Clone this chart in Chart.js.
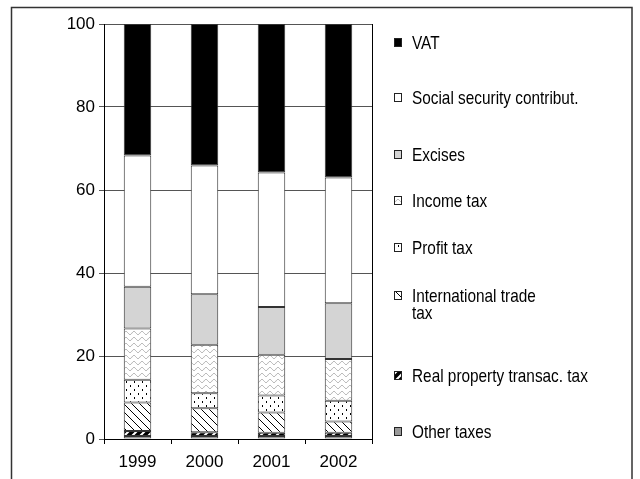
<!DOCTYPE html>
<html>
<head>
<meta charset="utf-8">
<script src="https://cdn.jsdelivr.net/npm/chart.js@4"></script>
<style>
  html, body { margin: 0; padding: 0; background: #fff; }
  #wrap { width: 640px; height: 479px; position: relative; }
</style>
</head>
<body>
<div id="wrap"><canvas id="taxChart"></canvas></div>
<script>
// ===== DATA =====
const years = ['1999', '2000', '2001', '2002'];
const yTicks = [0, 20, 40, 60, 80, 100];

// shares in % (stacked bottom to top)
const otherTaxes     = [0.7, 0.7, 0.7, 0.7];
const realProperty   = [1.2, 0.9, 0.8, 0.8];
const intlTrade      = [6.9, 5.8, 4.9, 2.7];
const profitTax      = [5.5, 3.6, 4.1, 5.0];
const incomeTax      = [12.3, 11.7, 9.8, 10.1];
const excises        = [10.1, 12.2, 11.5, 13.4];
const socialSecurity = [31.6, 31.0, 32.4, 30.3];
const vat            = [31.7, 34.1, 35.8, 37.0];

// legend text, top to bottom
const legendLabels = [
    'VAT',
    'Social security contribut.',
    'Excises',
    'Income tax',
    'Profit tax',
    ['International trade', 'tax'],
    'Real property transac. tax',
    'Other taxes'
];

const FONT = '"Liberation Sans", Arial, sans-serif';

// ===== PATTERNS =====
function makePattern(w, h, draw) {
    const c = document.createElement('canvas');
    c.width = w; c.height = h;
    const g = c.getContext('2d');
    draw(g, w, h);
    return g.createPattern(c, 'repeat');
}

const wavyFill = makePattern(8, 6, (g, w, h) => {
    g.fillStyle = '#fff'; g.fillRect(0, 0, w, h);
    g.strokeStyle = '#a8a8a8'; g.lineWidth = 1;
    g.beginPath();
    for (let x = 0; x <= w; x += 0.5) {
        const y = 3 + 1.6 * Math.sin(x / w * Math.PI * 2);
        if (x === 0) g.moveTo(x, y); else g.lineTo(x, y);
    }
    g.stroke();
});

const dotFill = makePattern(8, 8, (g, w, h) => {
    g.fillStyle = '#fff'; g.fillRect(0, 0, w, h);
    g.fillStyle = '#000';
    g.fillRect(2, 1, 1, 2);
    g.fillRect(6, 5, 1, 2);
});

const hatchFill = makePattern(8, 8, (g, w, h) => {
    g.fillStyle = '#fff'; g.fillRect(0, 0, w, h);
    g.strokeStyle = '#000'; g.lineWidth = 1;
    g.beginPath();
    g.moveTo(-1, -1); g.lineTo(9, 9);
    g.moveTo(-9, -1); g.lineTo(1, 9);
    g.moveTo(7, -1); g.lineTo(17, 9);
    g.stroke();
});

const stripeFill = makePattern(8, 8, (g, w, h) => {
    g.fillStyle = '#000'; g.fillRect(0, 0, w, h);
    g.strokeStyle = '#fff'; g.lineWidth = 2;
    g.beginPath();
    g.moveTo(-1, 9); g.lineTo(9, -1);
    g.moveTo(-9, 9); g.lineTo(1, -1);
    g.moveTo(7, 9); g.lineTo(17, -1);
    g.stroke();
});

// bottom to top
const series = [
    { label: 'Other taxes', data: otherTaxes, fill: '#9a9a9a' },
    { label: 'Real property transac. tax', data: realProperty, fill: stripeFill },
    { label: 'International trade tax', data: intlTrade, fill: hatchFill },
    { label: 'Profit tax', data: profitTax, fill: dotFill },
    { label: 'Income tax', data: incomeTax, fill: wavyFill },
    { label: 'Excises', data: excises, fill: '#d4d4d4' },
    { label: 'Social security contribut.', data: socialSecurity, fill: '#ffffff' },
    { label: 'VAT', data: vat, fill: '#000000' }
];

// ===== PLUGINS =====
const framePlugin = {
    id: 'frame',
    beforeDraw(chart) {
        const ctx = chart.ctx;
        ctx.save();
        ctx.fillStyle = '#fff';
        ctx.fillRect(0, 0, chart.width, chart.height);
        ctx.strokeStyle = '#333';
        ctx.lineWidth = 1.5;
        ctx.strokeRect(11.5, 7.5, 620.5, 500);
        ctx.restore();
    },
    afterDatasetsDraw(chart) {
        const { ctx, chartArea } = chart;
        ctx.save();
        ctx.strokeStyle = '#000';
        ctx.lineWidth = 1;
        ctx.beginPath();
        ctx.moveTo(Math.round(chartArea.right) + 0.5, chartArea.top);
        ctx.lineTo(Math.round(chartArea.right) + 0.5, chartArea.bottom);
        ctx.stroke();
        ctx.restore();
    }
};

// legend drawn at the right, text slightly condensed like the original
const sideLegend = {
    id: 'sideLegend',
    afterDraw(chart) {
        const ctx = chart.ctx;
        const rows = [43, 98, 155, 201, 248, 296, 376, 432];
        const legendFills = series.slice().reverse().map(s => s.fill);
        ctx.save();
        ctx.textBaseline = 'middle';
        legendLabels.forEach((lbl, i) => {
            const y = rows[i];
            ctx.fillStyle = legendFills[i];
            ctx.fillRect(394.5, y - 4.5, 7, 8);
            ctx.strokeStyle = '#222';
            ctx.lineWidth = 1;
            ctx.strokeRect(394.5, y - 4.5, 7, 8);
            const lines = Array.isArray(lbl) ? lbl : [lbl];
            lines.forEach((t, k) => {
                ctx.save();
                ctx.translate(412, y + 1 + k * 17);
                ctx.scale(0.83, 1);
                ctx.font = '18.5px ' + FONT;
                ctx.fillStyle = '#000';
                ctx.fillText(t, 0, 0);
                ctx.restore();
            });
        });
        ctx.restore();
    }
};

// ===== CHART =====
new Chart(document.getElementById('taxChart').getContext('2d'), {
    type: 'bar',
    data: {
        labels: years,
        datasets: series.map(s => ({
            label: s.label,
            data: s.data,
            backgroundColor: s.fill,
            borderColor: '#333',
            borderWidth: 1,
            borderSkipped: false,
            barPercentage: 0.41,
            categoryPercentage: 1
        }))
    },
    options: {
        responsive: true,
        maintainAspectRatio: false,
        animation: false,
        layout: { padding: { left: 0, top: 24, right: 268, bottom: 0 } },
        plugins: {
            legend: { display: false },
            tooltip: { enabled: false }
        },
        scales: {
            x: {
                stacked: true,
                afterFit: s => { s.height = 40; },
                border: { color: '#000', width: 1 },
                grid: { offset: true, drawOnChartArea: false, tickLength: 5, color: '#000' },
                ticks: { color: '#000', font: { family: FONT, size: 17 }, padding: 8 }
            },
            y: {
                stacked: true,
                min: 0,
                max: 100,
                afterFit: s => { s.width = 104; },
                afterBuildTicks: s => { s.ticks = yTicks.map(v => ({ value: v })); },
                border: { color: '#000', width: 1 },
                grid: { color: '#555', tickLength: 5, lineWidth: 1 },
                ticks: { color: '#000', font: { family: FONT, size: 17 }, padding: 4 }
            }
        }
    },
    plugins: [framePlugin, sideLegend]
});
</script>
</body>
</html>
